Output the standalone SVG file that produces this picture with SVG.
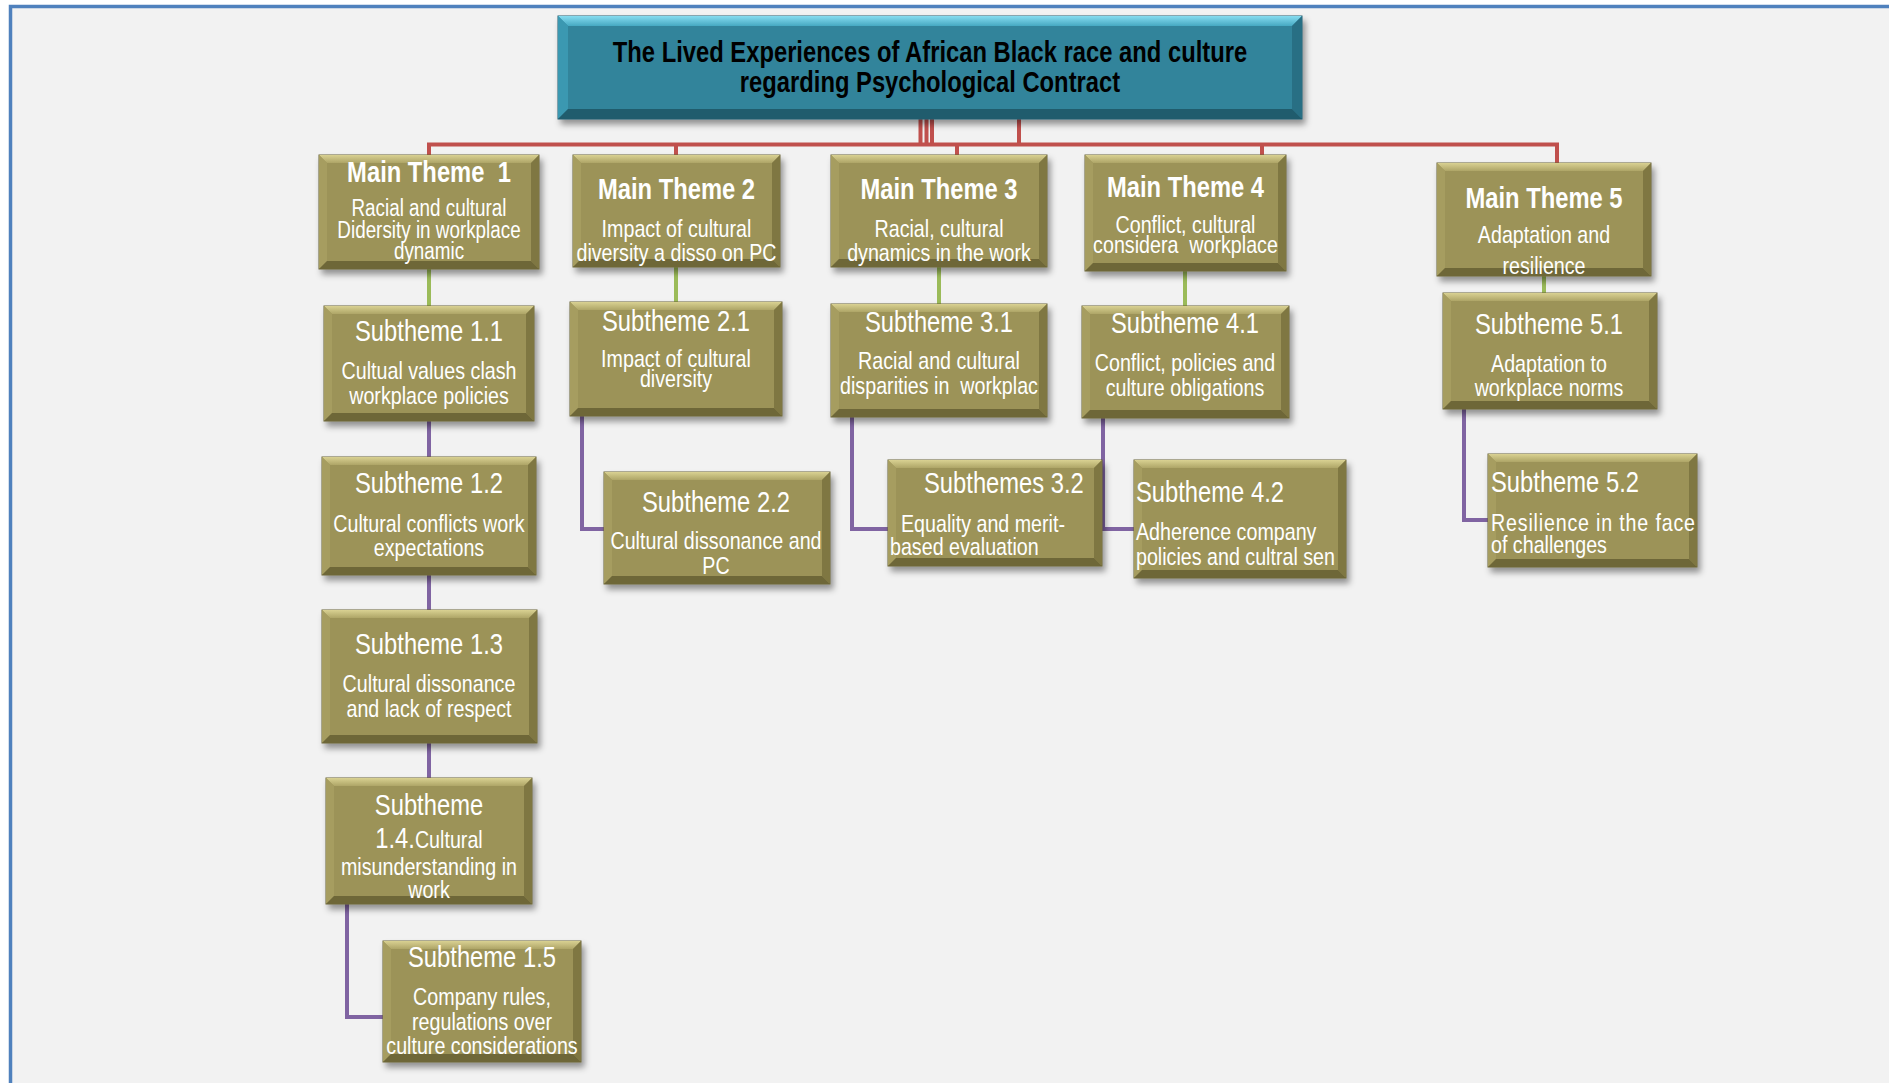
<svg xmlns="http://www.w3.org/2000/svg" width="1889" height="1083" viewBox="0 0 1889 1083">
<defs>
  <filter id="shadow" x="-10%" y="-10%" width="125%" height="130%">
    <feDropShadow dx="3" dy="5" stdDeviation="3" flood-color="#000" flood-opacity="0.4"/>
  </filter>
  <linearGradient id="topO" x1="0" y1="0" x2="0" y2="1">
    <stop offset="0" stop-color="#d9d192"/>
    <stop offset="1" stop-color="#aea567"/>
  </linearGradient>
  <linearGradient id="topT" x1="0" y1="0" x2="0" y2="1">
    <stop offset="0" stop-color="#86dcf0"/>
    <stop offset="1" stop-color="#46a9c2"/>
  </linearGradient>
</defs>
<style>
  .face-o { fill: #9c9358; stroke: #6a6336; stroke-width: 1; }
  .top-o { fill: url(#topO); }
  .left-o { fill: #a69d60; }
  .right-o { fill: #7f7742; }
  .bot-o { fill: #6e6738; }
  .face-t { fill: #31849b; stroke: #1f5e70; stroke-width: 1; }
  .top-t { fill: url(#topT); }
  .left-t { fill: #3b98b1; }
  .right-t { fill: #286f84; }
  .bot-t { fill: #205c6d; }
  /* narrow lettering: regular sans squeezed to 82% width */
  text { font-family: "Liberation Sans", Arial, sans-serif; fill: #fff; white-space: pre; }
  .c { text-anchor: middle; }
  .tt { font-size: 29px; font-weight: bold; fill: #000; }
  .mt { font-size: 29px; font-weight: bold; }
  .sh { font-size: 29px; }
  .bd { font-size: 24px; }
  .bd23 { font-size: 23px; }
  .red { stroke: #c0504d; stroke-width: 4; fill: none; }
  .grn { stroke: #9bbb59; stroke-width: 4; fill: none; }
  .pur { stroke: #8064a2; stroke-width: 4; fill: none; }
</style>

<!-- page frame -->
<rect x="0" y="0" width="1889" height="1083" fill="#ffffff"/>
<rect x="10" y="6" width="1879" height="1077" fill="#f2f2f2"/>
<path d="M10.5,1083 V6.5 H1889" fill="none" stroke="#4f81bd" stroke-width="3.5"/>

<!-- connectors -->
<g id="connectors">
  <path class="red" d="M920.5,118 V144.5 M926.5,118 V144.5 M932,118 V144.5 M1019,118 V144.5"/>
  <path class="red" d="M429,156 V144.5 H1557 V164"/>
  <path class="red" d="M676,144.5 V156 M957,144.5 V156 M1262,144.5 V156"/>
  <path class="grn" d="M429,269 V306 M676,267 V302 M939,267 V304 M1185,271 V306 M1544,276 V293"/>
  <path class="pur" d="M429,421 V457 M429,575 V610 M429,743 V778"/>
  <path class="pur" d="M347,904 V1017 H383"/>
  <path class="pur" d="M582,416 V529 H604"/>
  <path class="pur" d="M852,417 V529 H888"/>
  <path class="pur" d="M1103,418 V529 H1134"/>
  <path class="pur" d="M1464,409 V520 H1488"/>
</g>

<!-- root title -->
<g id="title" transform="translate(558,16)">
  <rect class="face-t" width="744" height="103" filter="url(#shadow)"/>
  <polygon class="top-t" points="0,0 744,0 734,10 10,10"/>
  <polygon class="left-t" points="0,0 10,10 10,93 0,103"/>
  <polygon class="right-t" points="744,0 744,103 734,93 734,10"/>
  <polygon class="bot-t" points="0,103 10,93 734,93 744,103"/>
  <g transform="scale(0.82,1)">
    <text class="tt c" x="453.66" y="46">The Lived Experiences of African Black race and culture</text>
    <text class="tt c" x="453.66" y="76">regarding Psychological Contract</text>
  </g>
</g>

<!-- main themes -->
<g id="mt1" transform="translate(319,155)">
  <rect class="face-o" width="220" height="114" filter="url(#shadow)"/>
  <polygon class="top-o" points="0,0 220,0 212,8 8,8"/>
  <polygon class="left-o" points="0,0 8,8 8,106 0,114"/>
  <polygon class="right-o" points="220,0 220,114 212,106 212,8"/>
  <polygon class="bot-o" points="0,114 8,106 212,106 220,114"/>
  <g transform="scale(0.82,1)">
    <text class="mt c" x="134.15" y="27">Main Theme  1</text>
    <text class="bd23 c" x="134.15" y="61">Racial and cultural</text>
    <text class="bd23 c" x="134.15" y="83">Didersity in workplace</text>
    <text class="bd23 c" x="134.15" y="104">dynamic</text>
  </g>
</g>

<g id="mt2" transform="translate(573,155)">
  <rect class="face-o" width="207" height="112" filter="url(#shadow)"/>
  <polygon class="top-o" points="0,0 207,0 199,8 8,8"/>
  <polygon class="left-o" points="0,0 8,8 8,104 0,112"/>
  <polygon class="right-o" points="207,0 207,112 199,104 199,8"/>
  <polygon class="bot-o" points="0,112 8,104 199,104 207,112"/>
  <g transform="scale(0.82,1)">
    <text class="mt c" x="126.22" y="44">Main Theme 2</text>
    <text class="bd c" x="126.22" y="82">Impact of cultural</text>
    <text class="bd c" x="126.22" y="106">diversity a disso on PC</text>
  </g>
</g>

<g id="mt3" transform="translate(831,155)">
  <rect class="face-o" width="216" height="112" filter="url(#shadow)"/>
  <polygon class="top-o" points="0,0 216,0 208,8 8,8"/>
  <polygon class="left-o" points="0,0 8,8 8,104 0,112"/>
  <polygon class="right-o" points="216,0 216,112 208,104 208,8"/>
  <polygon class="bot-o" points="0,112 8,104 208,104 216,112"/>
  <g transform="scale(0.82,1)">
    <text class="mt c" x="131.71" y="44">Main Theme 3</text>
    <text class="bd c" x="131.71" y="82">Racial, cultural</text>
    <text class="bd c" x="131.71" y="106">dynamics in the work</text>
  </g>
</g>

<g id="mt4" transform="translate(1085,155)">
  <rect class="face-o" width="201" height="116" filter="url(#shadow)"/>
  <polygon class="top-o" points="0,0 201,0 193,8 8,8"/>
  <polygon class="left-o" points="0,0 8,8 8,108 0,116"/>
  <polygon class="right-o" points="201,0 201,116 193,108 193,8"/>
  <polygon class="bot-o" points="0,116 8,108 193,108 201,116"/>
  <g transform="scale(0.82,1)">
    <text class="mt c" x="122.56" y="42">Main Theme 4</text>
    <text class="bd c" x="122.56" y="78">Conflict, cultural</text>
    <text class="bd c" x="122.56" y="98">considera  workplace</text>
  </g>
</g>

<g id="mt5" transform="translate(1437,163)">
  <rect class="face-o" width="214" height="113" filter="url(#shadow)"/>
  <polygon class="top-o" points="0,0 214,0 206,8 8,8"/>
  <polygon class="left-o" points="0,0 8,8 8,105 0,113"/>
  <polygon class="right-o" points="214,0 214,113 206,105 206,8"/>
  <polygon class="bot-o" points="0,113 8,105 206,105 214,113"/>
  <g transform="scale(0.82,1)">
    <text class="mt c" x="130.49" y="45">Main Theme 5</text>
    <text class="bd c" x="130.49" y="80">Adaptation and</text>
    <text class="bd c" x="130.49" y="111">resilience</text>
  </g>
</g>

<!-- first-level subthemes -->
<g id="s1-1" transform="translate(324,306)">
  <rect class="face-o" width="210" height="115" filter="url(#shadow)"/>
  <polygon class="top-o" points="0,0 210,0 202,8 8,8"/>
  <polygon class="left-o" points="0,0 8,8 8,107 0,115"/>
  <polygon class="right-o" points="210,0 210,115 202,107 202,8"/>
  <polygon class="bot-o" points="0,115 8,107 202,107 210,115"/>
  <g transform="scale(0.82,1)">
    <text class="sh c" x="128.05" y="35">Subtheme 1.1</text>
    <text class="bd c" x="128.05" y="73">Cultual values clash</text>
    <text class="bd c" x="128.05" y="98">workplace policies</text>
  </g>
</g>

<g id="s2-1" transform="translate(570,302)">
  <rect class="face-o" width="212" height="114" filter="url(#shadow)"/>
  <polygon class="top-o" points="0,0 212,0 204,8 8,8"/>
  <polygon class="left-o" points="0,0 8,8 8,106 0,114"/>
  <polygon class="right-o" points="212,0 212,114 204,106 204,8"/>
  <polygon class="bot-o" points="0,114 8,106 204,106 212,114"/>
  <g transform="scale(0.82,1)">
    <text class="sh c" x="129.27" y="29">Subtheme 2.1</text>
    <text class="bd c" x="129.27" y="65">Impact of cultural</text>
    <text class="bd c" x="129.27" y="85">diversity</text>
  </g>
</g>

<g id="s3-1" transform="translate(831,304)">
  <rect class="face-o" width="216" height="113" filter="url(#shadow)"/>
  <polygon class="top-o" points="0,0 216,0 208,8 8,8"/>
  <polygon class="left-o" points="0,0 8,8 8,105 0,113"/>
  <polygon class="right-o" points="216,0 216,113 208,105 208,8"/>
  <polygon class="bot-o" points="0,113 8,105 208,105 216,113"/>
  <g transform="scale(0.82,1)">
    <text class="sh c" x="131.71" y="28">Subtheme 3.1</text>
    <text class="bd c" x="131.71" y="65">Racial and cultural</text>
    <text class="bd c" x="131.71" y="90">disparities in  workplac</text>
  </g>
</g>

<g id="s4-1" transform="translate(1082,306)">
  <rect class="face-o" width="207" height="112" filter="url(#shadow)"/>
  <polygon class="top-o" points="0,0 207,0 199,8 8,8"/>
  <polygon class="left-o" points="0,0 8,8 8,104 0,112"/>
  <polygon class="right-o" points="207,0 207,112 199,104 199,8"/>
  <polygon class="bot-o" points="0,112 8,104 199,104 207,112"/>
  <g transform="scale(0.82,1)">
    <text class="sh c" x="125.61" y="27">Subtheme 4.1</text>
    <text class="bd c" x="125.61" y="65">Conflict, policies and</text>
    <text class="bd c" x="125.61" y="90">culture obligations</text>
  </g>
</g>

<g id="s5-1" transform="translate(1443,293)">
  <rect class="face-o" width="214" height="116" filter="url(#shadow)"/>
  <polygon class="top-o" points="0,0 214,0 206,8 8,8"/>
  <polygon class="left-o" points="0,0 8,8 8,108 0,116"/>
  <polygon class="right-o" points="214,0 214,116 206,108 206,8"/>
  <polygon class="bot-o" points="0,116 8,108 206,108 214,116"/>
  <g transform="scale(0.82,1)">
    <text class="sh c" x="129.27" y="41">Subtheme 5.1</text>
    <text class="bd c" x="129.27" y="79">Adaptation to</text>
    <text class="bd c" x="129.27" y="103">workplace norms</text>
  </g>
</g>

<!-- deeper subthemes -->
<g id="s1-2" transform="translate(322,457)">
  <rect class="face-o" width="214" height="118" filter="url(#shadow)"/>
  <polygon class="top-o" points="0,0 214,0 206,8 8,8"/>
  <polygon class="left-o" points="0,0 8,8 8,110 0,118"/>
  <polygon class="right-o" points="214,0 214,118 206,110 206,8"/>
  <polygon class="bot-o" points="0,118 8,110 206,110 214,118"/>
  <g transform="scale(0.82,1)">
    <text class="sh c" x="130.49" y="36">Subtheme 1.2</text>
    <text class="bd c" x="130.49" y="75">Cultural conflicts work</text>
    <text class="bd c" x="130.49" y="99">expectations</text>
  </g>
</g>

<g id="s1-3" transform="translate(322,610)">
  <rect class="face-o" width="215" height="133" filter="url(#shadow)"/>
  <polygon class="top-o" points="0,0 215,0 207,8 8,8"/>
  <polygon class="left-o" points="0,0 8,8 8,125 0,133"/>
  <polygon class="right-o" points="215,0 215,133 207,125 207,8"/>
  <polygon class="bot-o" points="0,133 8,125 207,125 215,133"/>
  <g transform="scale(0.82,1)">
    <text class="sh c" x="130.49" y="44">Subtheme 1.3</text>
    <text class="bd c" x="130.49" y="82">Cultural dissonance</text>
    <text class="bd c" x="130.49" y="107">and lack of respect</text>
  </g>
</g>

<g id="s1-4" transform="translate(326,778)">
  <rect class="face-o" width="206" height="126" filter="url(#shadow)"/>
  <polygon class="top-o" points="0,0 206,0 198,8 8,8"/>
  <polygon class="left-o" points="0,0 8,8 8,118 0,126"/>
  <polygon class="right-o" points="206,0 206,126 198,118 198,8"/>
  <polygon class="bot-o" points="0,126 8,118 198,118 206,126"/>
  <g transform="scale(0.82,1)">
    <text class="sh c" x="125.61" y="37">Subtheme</text>
    <text class="c" x="125.61" y="70"><tspan class="sh">1.4.</tspan><tspan class="bd">Cultural</tspan></text>
    <text class="bd c" x="125.61" y="97">misunderstanding in</text>
    <text class="bd c" x="125.61" y="120">work</text>
  </g>
</g>

<g id="s1-5" transform="translate(383,941)">
  <rect class="face-o" width="198" height="121" filter="url(#shadow)"/>
  <polygon class="top-o" points="0,0 198,0 190,8 8,8"/>
  <polygon class="left-o" points="0,0 8,8 8,113 0,121"/>
  <polygon class="right-o" points="198,0 198,121 190,113 190,8"/>
  <polygon class="bot-o" points="0,121 8,113 190,113 198,121"/>
  <g transform="scale(0.82,1)">
    <text class="sh c" x="120.73" y="26">Subtheme 1.5</text>
    <text class="bd c" x="120.73" y="64">Company rules,</text>
    <text class="bd c" x="120.73" y="89">regulations over</text>
    <text class="bd c" x="120.73" y="113">culture considerations</text>
  </g>
</g>

<g id="s2-2" transform="translate(604,472)">
  <rect class="face-o" width="226" height="112" filter="url(#shadow)"/>
  <polygon class="top-o" points="0,0 226,0 218,8 8,8"/>
  <polygon class="left-o" points="0,0 8,8 8,104 0,112"/>
  <polygon class="right-o" points="226,0 226,112 218,104 218,8"/>
  <polygon class="bot-o" points="0,112 8,104 218,104 226,112"/>
  <g transform="scale(0.82,1)">
    <text class="sh c" x="136.59" y="40">Subtheme 2.2</text>
    <text class="bd c" x="136.59" y="77">Cultural dissonance and</text>
    <text class="bd c" x="136.59" y="102">PC</text>
  </g>
</g>

<g id="s3-2" transform="translate(888,460)">
  <rect class="face-o" width="214" height="106" filter="url(#shadow)"/>
  <polygon class="top-o" points="0,0 214,0 206,8 8,8"/>
  <polygon class="left-o" points="0,0 8,8 8,98 0,106"/>
  <polygon class="right-o" points="214,0 214,106 206,98 206,8"/>
  <polygon class="bot-o" points="0,106 8,98 206,98 214,106"/>
  <g transform="scale(0.82,1)">
    <text class="sh" x="43.9" y="33">Subthemes 3.2</text>
    <text class="bd" x="15.85" y="72">Equality and merit-</text>
    <text class="bd" x="2.44" y="95">based evaluation</text>
  </g>
</g>

<g id="s4-2" transform="translate(1134,460)">
  <rect class="face-o" width="212" height="118" filter="url(#shadow)"/>
  <polygon class="top-o" points="0,0 212,0 204,8 8,8"/>
  <polygon class="left-o" points="0,0 8,8 8,110 0,118"/>
  <polygon class="right-o" points="212,0 212,118 204,110 204,8"/>
  <polygon class="bot-o" points="0,118 8,110 204,110 212,118"/>
  <g transform="scale(0.82,1)">
    <text class="sh" x="2.44" y="42">Subtheme 4.2</text>
    <text class="bd" x="2.44" y="80">Adherence company</text>
    <text class="bd" x="2.44" y="105">policies and cultral sen</text>
  </g>
</g>

<g id="s5-2" transform="translate(1488,454)">
  <rect class="face-o" width="209" height="113" filter="url(#shadow)"/>
  <polygon class="top-o" points="0,0 209,0 201,8 8,8"/>
  <polygon class="left-o" points="0,0 8,8 8,105 0,113"/>
  <polygon class="right-o" points="209,0 209,113 201,105 201,8"/>
  <polygon class="bot-o" points="0,113 8,105 201,105 209,113"/>
  <g transform="scale(0.82,1)">
    <text class="sh" x="3.66" y="38">Subtheme 5.2</text>
    <text class="bd" x="3.66" y="77" textLength="248.8" lengthAdjust="spacing">Resilience in the face</text>
    <text class="bd" x="3.66" y="99">of challenges</text>
  </g>
</g>
</svg>
